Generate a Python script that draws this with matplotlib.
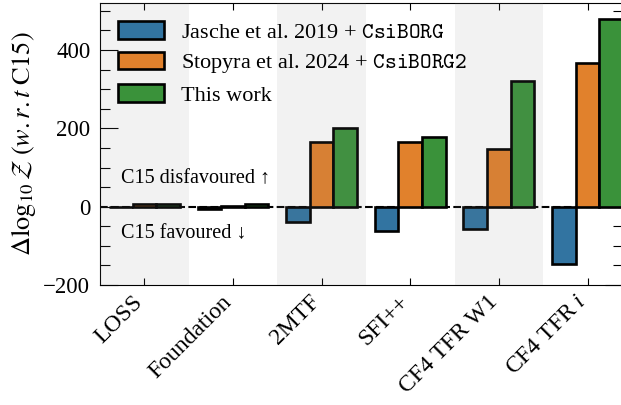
import matplotlib
matplotlib.use("Agg")
import matplotlib.pyplot as plt
import matplotlib.transforms as mtransforms
import numpy as np

categories = ["LOSS", "Foundation", "2MTF", "SFI++", "CF4 TFR W1", r"CF4 TFR $i$"]
series_names = [r"Jasche et al. 2019 + $\mathtt{CsiBORG}$",
                r"Stopyra et al. 2024 + $\mathtt{CsiBORG2}$",
                "This work"]
jasche = [-1, -6, -40, -63, -57, -146]
stopyra = [6, 2, 166, 164, 147, 367]
this_work = [6, 6, 201, 179, 320, 478]
colors = ["#3274a1", "#e1812c", "#3a923a"]

plt.rcParams["font.family"] = ["Liberation Serif", "DejaVu Serif"]
plt.rcParams["mathtext.fontset"] = "custom"
plt.rcParams["mathtext.rm"] = "Liberation Serif"
plt.rcParams["mathtext.it"] = "Liberation Serif:italic"
plt.rcParams["mathtext.tt"] = "cmtt10"
FS = 16

fig = plt.figure(figsize=(6.21, 4.05), dpi=100)
ax = fig.add_axes([100/621, 1-285/405, 523/621, 282/405])

x = np.arange(len(categories))
w = 0.8/3
values = [jasche, stopyra, this_work]
for k, (vals, c, name) in enumerate(zip(values, colors, series_names)):
    ax.bar(x + (k-1)*w, vals, width=w, color=c, edgecolor="black",
           linewidth=1.9, label=name, zorder=3)

for i in range(0, len(categories), 2):
    ax.axvspan(i-0.5, i+0.5, color="gray", alpha=0.1, lw=0, zorder=4)

ax.axhline(0, color="black", ls="--", lw=1.5, zorder=2)

ax.set_xlim(-0.5, 5.4)
ax.set_ylim(-200, 520)
ax.set_xticks(x)
ax.set_yticks([-200, 0, 200, 400])
ax.set_yticks(np.arange(-150, 520, 50), minor=True)
ax.tick_params(axis="y", which="major", direction="in", length=13, width=0.8,
               left=True, right=True, labelsize=16.5, pad=7)
ax.tick_params(axis="y", which="minor", direction="in", length=7, width=0.8,
               left=True, right=True)
ax.tick_params(axis="x", which="major", direction="in", length=5, width=0.8,
               top=True, bottom=True, pad=6)
ax.tick_params(axis="x", which="minor", bottom=False, top=False)
ax.set_xticklabels(categories, rotation=45, ha="right", rotation_mode="anchor",
                   fontsize=17)
offset = mtransforms.ScaledTranslation(-12/100, 2/100, fig.dpi_scale_trans)
for lab in ax.get_xticklabels():
    lab.set_transform(lab.get_transform() + offset)
for s in ax.spines.values():
    s.set_linewidth(0.8)

ax.set_ylabel(r"$\Delta\log_{10}\mathcal{Z}\;(\mathit{w.r.t}\;\mathrm{C15})$",
              fontsize=19, math_fontfamily="stix", labelpad=4)

ax.text(-0.26, 72, "C15 disfavoured \u2191", fontsize=14.5, va="center", ha="left",
        zorder=6)
ax.text(-0.26, -70, "C15 favoured \u2193", fontsize=14.5, va="center", ha="left",
        zorder=6)

leg = ax.legend(loc="upper left", bbox_to_anchor=(0.034, 0.935), frameon=False,
                borderaxespad=0, borderpad=0, fontsize=FS, handlelength=2.1,
                handleheight=0.85, handletextpad=0.75, labelspacing=0.4)
leg.set_zorder(7)

fig.savefig("out.png", dpi=100)
